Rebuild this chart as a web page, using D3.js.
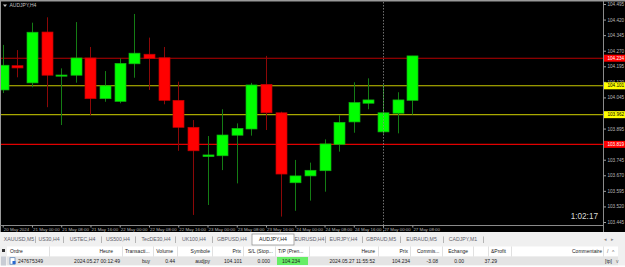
<!DOCTYPE html>
<html>
<head>
<meta charset="utf-8">
<script src="https://cdn.jsdelivr.net/npm/d3@7.9.0/dist/d3.min.js"></script>
<style>
  html, body { margin: 0; padding: 0; background: #f0f0f0; }
  svg { display: block; font-family: "Liberation Sans", Arial, sans-serif; }
</style>
</head>
<body>
<svg id="chart" width="625" height="267"></svg>
<script>
// AUDJPY H4 candles
const opens  = [104.081, 104.198, 104.115, 104.360, 104.148, 104.152, 104.235, 104.039, 104.026, 104.207, 104.253, 104.236, 104.031, 103.901, 103.760, 103.764, 103.863, 103.893, 104.108, 103.971, 103.634, 103.667, 103.692, 103.819, 103.927, 104.017, 103.879, 103.969, 104.031];
const highs  = [104.298, 104.273, 104.405, 104.431, 104.185, 104.408, 104.288, 104.172, 104.233, 104.447, 104.333, 104.288, 104.121, 103.936, 103.859, 103.988, 103.920, 104.115, 104.245, 103.976, 103.744, 103.731, 103.843, 103.960, 104.118, 104.137, 104.108, 104.070, 104.245];
const lows   = [104.066, 104.142, 104.094, 103.998, 103.912, 104.116, 103.960, 104.024, 104.017, 104.140, 104.081, 104.012, 103.788, 103.479, 103.527, 103.695, 103.631, 103.861, 103.888, 103.471, 103.499, 103.548, 103.591, 103.784, 103.875, 103.988, 103.869, 103.872, 103.962];
const closes = [104.200, 104.187, 104.359, 104.152, 104.153, 104.235, 104.039, 104.101, 104.209, 104.258, 104.232, 104.031, 103.901, 103.788, 103.768, 103.864, 103.896, 104.105, 103.971, 103.676, 103.667, 103.694, 103.821, 103.925, 104.020, 104.033, 103.971, 104.033, 104.245];

const timeLabels = ['20 May 2024', '21 May 00:00', '21 May 08:00', '21 May 16:00', '22 May 00:00', '22 May 08:00', '22 May 16:00', '23 May 00:00', '23 May 08:00', '23 May 16:00', '24 May 00:00', '24 May 08:00', '24 May 16:00', '27 May 00:00', '27 May 08:00'];
const priceTicks = [104.495, 104.420, 104.345, 104.270, 104.195, 104.120, 104.045, 103.970, 103.895, 103.820, 103.745, 103.670, 103.595, 103.520, 103.445];

const levelPrices = [104.234, 104.101, 103.962, 103.819];
const levelLineColors = ['#b80000', '#c8c800', '#a8a800', '#e00000'];
const levelTagColors = ['#ff0000', '#ffff00', '#ffff00', '#ff0000'];
const levelTextColors = ['#ffffff', '#000000', '#000000', '#ffffff'];

const tabNames = ['XAUUSD,M5', 'US30,H4', 'USTEC,H4', 'US500,H4', 'TecDE30,H4', 'UK100,H4', 'GBPUSD,H4', 'AUDJPY,H4', 'EURUSD,H4', 'EURJPY,H4', 'GBPAUD,M5', 'EURAUD,M5', 'CADJPY,M1'];
const activeTab = 'AUDJPY,H4';

const columnHeaders = ['Ordre', 'Heure', 'Transacti...', 'Volume', 'Symbole', 'Prix', 'S/L (Stop...', 'T/P (Pren...', 'Heure', 'Prix', 'Commis...', 'Echange', '&Profit', 'Commentaire'];
const orderRow = ['247675349', '2024.05.27 00:12:49', 'buy', '0.44', 'audjpy', '104.101', '0.000', '104.234', '2024.05.27 11:55:52', '104.234', '-3.08', '0.00', '37.29', '[tp]'];
const countdown = '1:02:17';

const W = 625;
const plotRight = 603;
const plotBottom = 225;
const blackBottom = 232;

const candles = opens.map((o, i) => ({ i, o, h: highs[i], l: lows[i], c: closes[i] }));

const x = d3.scaleLinear().domain([0, candles.length - 1]).range([2.7, 412.3]);
const y = d3.scaleLinear().domain([103.445, 104.495]).range([222, 4]);

const svg = d3.select('#chart');

// chart background + frame
svg.append('rect').attr('width', W).attr('height', blackBottom).attr('fill', '#000');
svg.append('rect').attr('width', W).attr('height', 1.5).attr('fill', '#9a9a9a');
svg.append('rect').attr('width', 1).attr('height', blackBottom).attr('fill', '#9a9a9a');
svg.append('line')
  .attr('x1', 0).attr('x2', plotRight)
  .attr('y1', plotBottom + 0.5).attr('y2', plotBottom + 0.5)
  .attr('stroke', '#8a8a8a').attr('stroke-width', 1);
svg.append('line')
  .attr('x1', plotRight + 0.5).attr('x2', plotRight + 0.5)
  .attr('y1', 1).attr('y2', blackBottom)
  .attr('stroke', '#8a8a8a').attr('stroke-width', 1);

svg.append('clipPath').attr('id', 'plot-clip')
  .append('rect').attr('x', 1).attr('y', 1.5).attr('width', plotRight - 1).attr('height', plotBottom - 1.5);

const plot = svg.append('g').attr('clip-path', 'url(#plot-clip)');

// horizontal levels
plot.selectAll('line.level')
  .data(levelPrices)
  .join('line')
  .attr('class', 'level')
  .attr('x1', 0).attr('x2', plotRight)
  .attr('y1', (d) => y(d)).attr('y2', (d) => y(d))
  .attr('stroke', (d, i) => levelLineColors[i])
  .attr('stroke-width', 1.1);

// wicks
plot.selectAll('line.wick')
  .data(candles)
  .join('line')
  .attr('class', 'wick')
  .attr('x1', (d) => Math.round(x(d.i)) + 0.5)
  .attr('x2', (d) => Math.round(x(d.i)) + 0.5)
  .attr('y1', (d) => y(d.h))
  .attr('y2', (d) => y(d.l))
  .attr('stroke', (d) => (d.c >= d.o ? '#147c14' : '#8c0808'))
  .attr('stroke-width', 1);

// bodies
plot.selectAll('rect.body')
  .data(candles)
  .join('rect')
  .attr('class', 'body')
  .attr('x', (d) => Math.round(x(d.i)) - 5)
  .attr('width', 11)
  .attr('y', (d) => y(Math.max(d.o, d.c)))
  .attr('height', (d) => Math.max(1.2, Math.abs(y(d.o) - y(d.c))))
  .attr('fill', (d) => (d.c >= d.o ? '#00ff00' : '#ff0000'))
  .attr('stroke', (d) => (d.c >= d.o ? '#10b010' : '#c00000'))
  .attr('stroke-width', 0.7);

// vertical dotted line at the order bar
svg.append('line')
  .attr('x1', Math.round(x(26)) + 0.5).attr('x2', Math.round(x(26)) + 0.5)
  .attr('y1', 2).attr('y2', blackBottom)
  .attr('stroke', '#8c8c8c')
  .attr('stroke-width', 0.8)
  .attr('stroke-dasharray', '1.5,1.5');

// price axis
const yAxis = svg.append('g')
  .attr('transform', `translate(${plotRight + 0.5},0)`)
  .call(d3.axisRight(y).tickValues(priceTicks).tickSize(2.5).tickPadding(1.5).tickFormat(d3.format('.3f')));
yAxis.select('.domain').remove();
yAxis.selectAll('line').attr('stroke', '#a0a0a0');
yAxis.selectAll('text')
  .attr('fill', '#b8b8b8')
  .attr('font-size', 4.6)
  .attr('font-family', 'Liberation Sans, Arial, sans-serif');

// level tags on the price axis
const tags = svg.selectAll('g.tag')
  .data(levelPrices)
  .join('g')
  .attr('class', 'tag')
  .attr('transform', (d) => `translate(${plotRight + 1},${y(d)})`);
tags.append('rect')
  .attr('x', 0).attr('y', -3.5).attr('width', 21).attr('height', 7)
  .attr('fill', (d, i) => levelTagColors[i]);
tags.append('text')
  .attr('x', 3.5).attr('dy', '0.35em')
  .attr('font-size', 4.6)
  .attr('fill', (d, i) => levelTextColors[i])
  .text((d) => d3.format('.3f')(d));

// time axis
const timeIdx = timeLabels.map((t, k) => k * 2);
const xAxis = svg.append('g')
  .attr('transform', `translate(0,${plotBottom + 0.5})`)
  .call(d3.axisBottom(x).tickValues(timeIdx).tickSize(2).tickPadding(0.3).tickFormat((d) => timeLabels[d / 2]));
xAxis.select('.domain').remove();
xAxis.selectAll('line').attr('stroke', '#a0a0a0');
xAxis.selectAll('text')
  .attr('text-anchor', 'start')
  .attr('x', 0.6)
  .attr('fill', '#b8b8b8')
  .attr('font-size', 4.4)
  .attr('font-family', 'Liberation Sans, Arial, sans-serif');

// chart title
svg.append('path').attr('d', 'M3,4.5 L7,4.5 L5,7 Z').attr('fill', '#c8c8c8');
svg.append('text').attr('x', 9.5).attr('y', 7).attr('font-size', 5).attr('fill', '#c0c0c0').text('AUDJPY,H4');

// countdown to bar close
svg.append('text').attr('x', 598).attr('y', 218.5).attr('text-anchor', 'end')
  .attr('font-size', 8.2).attr('fill', '#d8d8d8').text(countdown);

// ---- terminal panel below the chart ----
svg.append('rect').attr('y', blackBottom).attr('width', W).attr('height', 267 - blackBottom).attr('fill', '#f0f0f0');

const tabCenters = [19, 49, 82.5, 118, 156, 194, 232, 273, 309.5, 343.5, 381, 421.5, 463];
const tabSeps = [35, 63, 101, 135, 175, 212, 325, 362, 400, 443, 483];
const tabsG = svg.append('g');
tabsG.append('rect').attr('x', 252).attr('y', 234).attr('width', 42).attr('height', 11)
  .attr('fill', '#ffffff').attr('stroke', '#8a8a8a').attr('stroke-width', 0.7);
tabsG.selectAll('text.tab')
  .data(tabNames)
  .join('text')
  .attr('class', 'tab')
  .attr('x', (d, i) => tabCenters[i])
  .attr('y', 241.3)
  .attr('text-anchor', 'middle')
  .attr('font-size', 5.2)
  .attr('fill', (d) => (d === activeTab ? '#1a1a1a' : '#62626c'))
  .text((d) => d);
tabsG.selectAll('line.sep')
  .data(tabSeps)
  .join('line')
  .attr('class', 'sep')
  .attr('x1', (d) => d + 0.5).attr('x2', (d) => d + 0.5)
  .attr('y1', 236.5).attr('y2', 243)
  .attr('stroke', '#9a9a9a').attr('stroke-width', 0.7);
tabsG.append('text').attr('x', 604).attr('y', 241.3).attr('font-size', 4.5).attr('fill', '#888').text('◂');
tabsG.append('text').attr('x', 611).attr('y', 241.3).attr('font-size', 4.5).attr('fill', '#888').text('▸');

// table
const headerTop = 246.5;
const rowTop = 256.5;
svg.append('rect').attr('x', 7).attr('y', headerTop).attr('width', 611).attr('height', 10).attr('fill', '#ffffff');
svg.append('rect').attr('x', 7).attr('y', rowTop).attr('width', 611).attr('height', 9).attr('fill', '#e4e4e4');
svg.append('rect').attr('x', 0).attr('y', rowTop + 9).attr('width', W).attr('height', 2).attr('fill', '#ffffff');
// tp cell highlight
svg.append('rect').attr('x', 277).attr('y', rowTop + 0.5).attr('width', 31).attr('height', 8).attr('fill', '#66ee66');

const headerX = [10, 113, 125, 173, 210, 241, 248, 278, 375, 408, 417, 468, 491, 602];
const headerAnchor = ['start', 'end', 'start', 'end', 'end', 'end', 'start', 'start', 'end', 'end', 'start', 'end', 'start', 'end'];
const rowX = [18, 120, 150, 175, 210, 242, 270, 300, 375, 410, 438, 464, 497, 612];
const colDividers = [49, 122, 153, 177, 212, 243, 275, 309, 378, 410, 442, 473, 488, 511, 603];

svg.selectAll('line.coldiv')
  .data(colDividers)
  .join('line')
  .attr('class', 'coldiv')
  .attr('x1', (d) => d + 0.5).attr('x2', (d) => d + 0.5)
  .attr('y1', headerTop).attr('y2', headerTop + 10)
  .attr('stroke', '#d4d4d4').attr('stroke-width', 0.7);

svg.selectAll('text.head')
  .data(columnHeaders)
  .join('text')
  .attr('class', 'head')
  .attr('x', (d, i) => headerX[i])
  .attr('y', headerTop + 6.8)
  .attr('text-anchor', (d, i) => headerAnchor[i])
  .attr('font-size', 5)
  .attr('fill', '#222')
  .text((d) => d);

svg.selectAll('text.cell')
  .data(orderRow)
  .join('text')
  .attr('class', 'cell')
  .attr('x', (d, i) => rowX[i])
  .attr('y', rowTop + 6.3)
  .attr('text-anchor', (d, i) => (i === 0 ? 'start' : 'end'))
  .attr('font-size', 5)
  .attr('fill', '#222')
  .text((d) => d);

// header extras and row icons
svg.append('rect').attr('x', 2).attr('y', 249).attr('width', 3).attr('height', 3).attr('fill', '#333');
svg.append('text').attr('x', 607).attr('y', headerTop + 6.8).attr('font-size', 5).attr('fill', '#666').text('/');
svg.append('text').attr('x', 612).attr('y', headerTop + 7.3).attr('font-size', 5).attr('fill', '#666').text('^');
svg.append('text').attr('x', 616).attr('y', rowTop + 6.3).attr('font-size', 5).attr('fill', '#666').text('v');
svg.append('rect').attr('x', 1).attr('y', rowTop).attr('width', 5).attr('height', 9).attr('fill', '#c8ccd4');
svg.append('rect').attr('x', 10).attr('y', rowTop + 1.2).attr('width', 5).attr('height', 6.5)
  .attr('fill', '#ffffff').attr('stroke', '#4a78b0').attr('stroke-width', 0.7);
svg.append('rect').attr('x', 12.5).attr('y', rowTop + 4.5).attr('width', 3).attr('height', 3).attr('fill', '#2a6ad0');
</script>
</body>
</html>
